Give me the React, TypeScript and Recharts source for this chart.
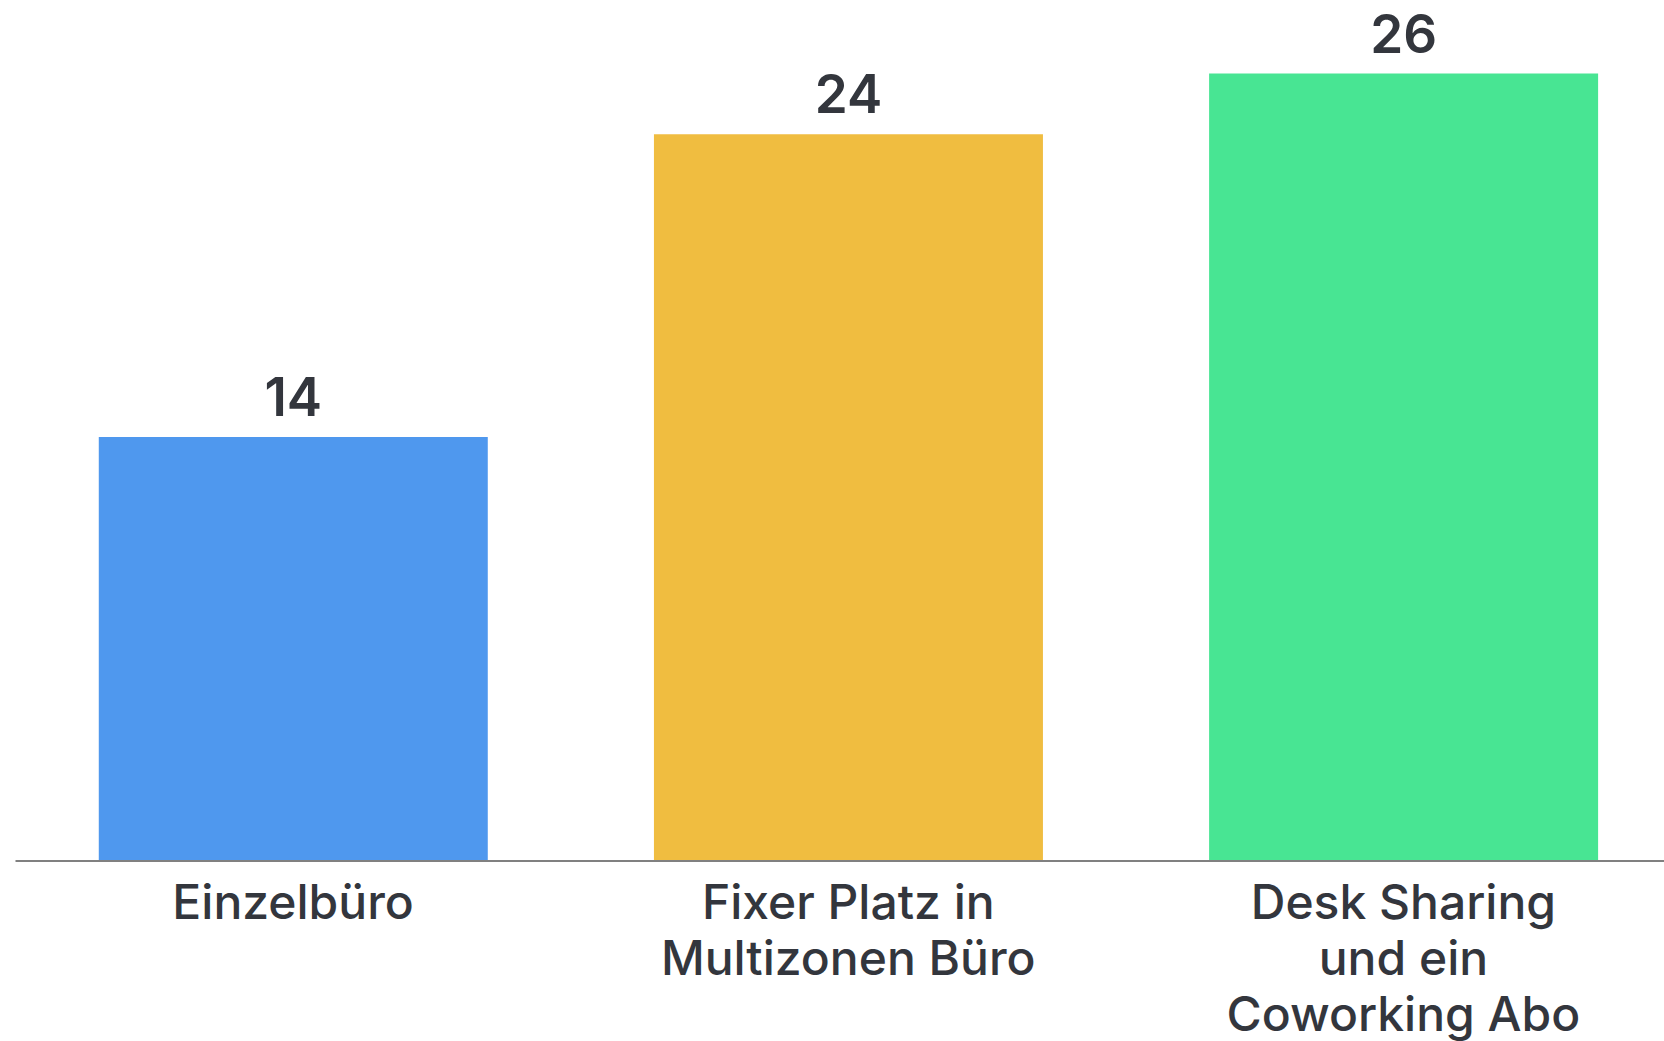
import React from "react";
import { BarChart, Bar, XAxis, YAxis, Cell, LabelList } from "recharts";

const categories = ["Einzelbüro", "Fixer Platz in\nMultizonen Büro", "Desk Sharing\nund ein\nCoworking Abo"];
const values = [14, 24, 26];
const barColors = ["#4f98ee", "#f0bd40", "#48e593"];
const yDomain = [0, 28];

const data = categories.map((name, i) => ({ name, value: values[i] }));

const FONT = "Inter, 'Noto Sans', sans-serif";
const TEXT = "#33363d";

const CategoryTick = (props: any) => {
  const { x, y, payload } = props;
  const lines = String(payload.value).split("\n");
  return (
    <text x={x} y={y} textAnchor="middle" fill={TEXT} fontFamily={FONT} fontSize={48} fontWeight={500}>
      {lines.map((l: string, i: number) => (
        <tspan key={i} x={x} dy={i === 0 ? 58 : 56}>
          {l}
        </tspan>
      ))}
    </text>
  );
};

export default function App() {
  return (
    <div style={{ position: "fixed", left: 0, top: 0, width: 1664, height: 1041, overflow: "hidden", background: "#fff" }}>
      <BarChart
        width={1681}
        height={1041}
        data={data}
        margin={{ top: 13, right: 0, left: 15.5, bottom: 0 }}
        barCategoryGap="15%"
      >
        <XAxis
          dataKey="name"
          height={180}
          interval={0}
          tickLine={false}
          tickSize={0}
          tickMargin={0}
          axisLine={{ stroke: "#808080", strokeWidth: 2 }}
          tick={<CategoryTick />}
        />
        <YAxis hide domain={yDomain} />
        <Bar dataKey="value" isAnimationActive={false}>
          {data.map((d, i) => (
            <Cell key={i} fill={barColors[i]} />
          ))}
          <LabelList
            dataKey="value"
            position="top"
            offset={21}
            fill={TEXT}
            fontFamily={FONT}
            fontSize={53}
            fontWeight={600}
          />
        </Bar>
      </BarChart>
    </div>
  );
}
